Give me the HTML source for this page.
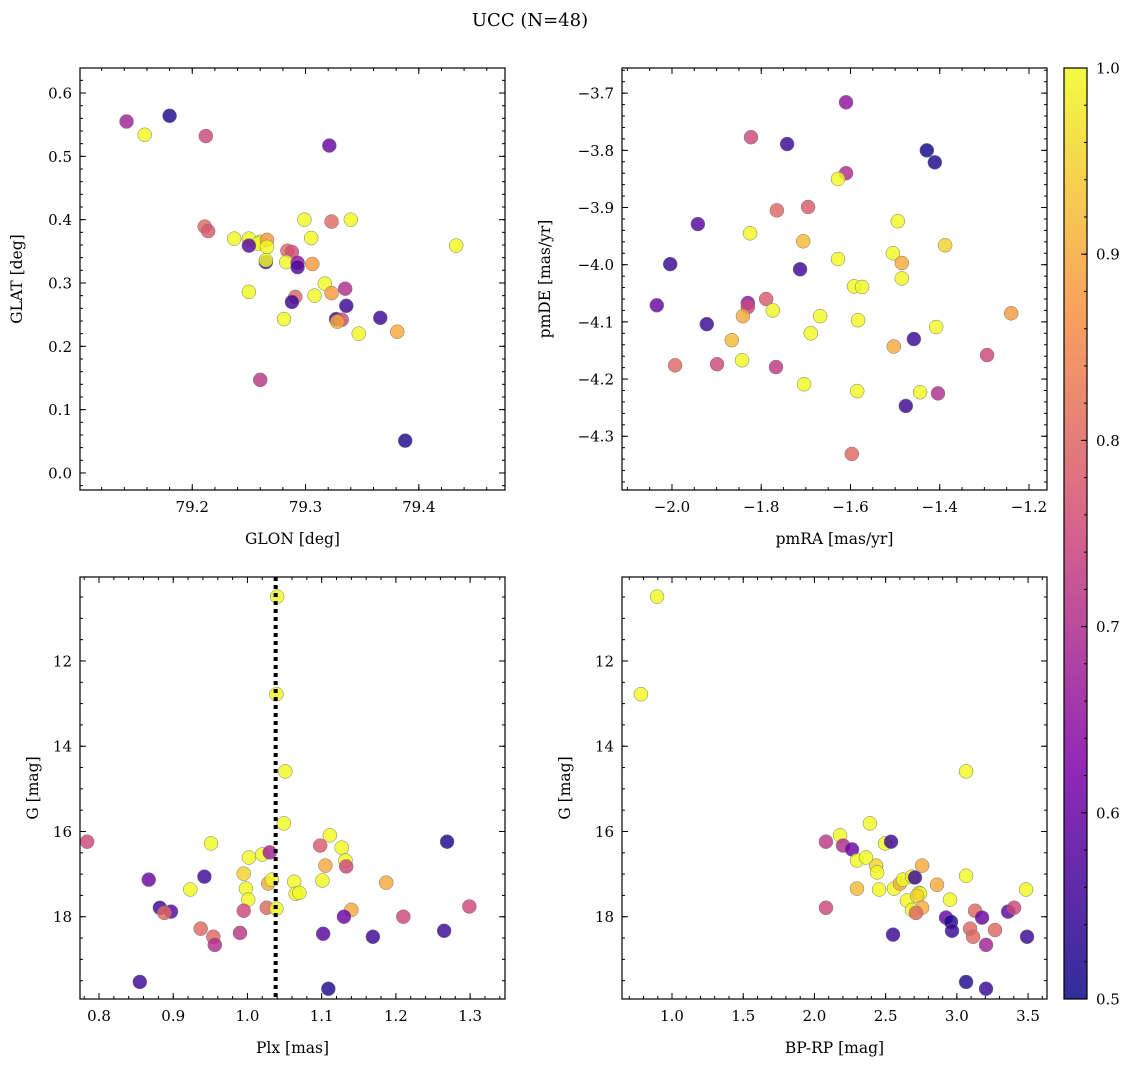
<!DOCTYPE html>
<html><head><meta charset="utf-8">
<style>
html,body{margin:0;padding:0;background:#fff;}
svg{display:block;font-family:"DejaVu Serif","Liberation Serif",serif;}
</style></head>
<body>
<svg id="fig" width="1136" height="1067" viewBox="0 0 1136 1067" xmlns="http://www.w3.org/2000/svg">
<text x="530" y="26" font-size="18" text-anchor="middle">UCC (N=48)</text>
</svg>
<script>
// ---- Panel 1: GLON vs GLAT ----
const glonA=[79.142,79.158,79.180,79.212,79.321,79.211,79.214,79.237,79.250,79.260,79.258,79.266,79.266,79.250,79.265,79.265,79.284,79.288,79.283,79.293,79.293,79.299,79.305,79.306,79.323,79.340,79.317,79.323,79.335,79.308,79.291,79.250,79.336,79.288,79.327,79.332,79.328,79.347,79.366,79.381,79.281,79.433,79.260,79.388];
const glatA=[0.555,0.534,0.564,0.532,0.517,0.389,0.382,0.370,0.370,0.365,0.362,0.368,0.357,0.359,0.333,0.336,0.351,0.349,0.333,0.332,0.325,0.400,0.371,0.330,0.397,0.400,0.299,0.284,0.291,0.280,0.278,0.286,0.264,0.270,0.243,0.242,0.239,0.220,0.245,0.223,0.243,0.359,0.147,0.051];
const probA=[0.68,1.0,0.52,0.75,0.6,0.8,0.78,1.0,1.0,1.0,1.0,0.88,1.0,0.58,0.55,1.0,0.8,0.76,1.0,0.65,0.57,1.0,1.0,0.88,0.8,1.0,1.0,0.88,0.7,1.0,0.8,1.0,0.55,0.55,0.55,0.75,0.9,1.0,0.55,0.9,1.0,1.0,0.72,0.52];
// ---- Panel 2: pmRA vs pmDE ----
const pmraB=[-1.610,-1.823,-1.742,-1.429,-1.411,-1.610,-1.628,-1.942,-1.825,-1.765,-1.695,-1.494,-1.706,-1.388,-1.505,-2.004,-1.628,-1.485,-1.713,-1.485,-1.592,-1.574,-2.034,-1.830,-1.830,-1.789,-1.841,-1.774,-1.668,-1.583,-1.922,-1.689,-1.408,-1.240,-1.458,-1.866,-1.843,-1.993,-1.899,-1.767,-1.503,-1.294,-1.704,-1.585,-1.444,-1.476,-1.404,-1.597];
const pmdeB=[-3.716,-3.777,-3.789,-3.800,-3.821,-3.840,-3.850,-3.929,-3.945,-3.905,-3.899,-3.924,-3.959,-3.966,-3.980,-3.999,-3.990,-3.997,-4.008,-4.024,-4.038,-4.039,-4.071,-4.067,-4.074,-4.060,-4.090,-4.080,-4.090,-4.097,-4.104,-4.120,-4.109,-4.085,-4.130,-4.132,-4.167,-4.176,-4.174,-4.179,-4.143,-4.158,-4.209,-4.221,-4.223,-4.247,-4.225,-4.331];
const probB=[0.65,0.75,0.55,0.5,0.52,0.7,1.0,0.58,1.0,0.8,0.78,1.0,0.92,0.95,1.0,0.55,1.0,0.9,0.55,1.0,1.0,1.0,0.6,0.65,0.75,0.78,0.9,1.0,1.0,1.0,0.55,1.0,1.0,0.88,0.55,0.92,1.0,0.8,0.75,0.72,0.9,0.75,1.0,1.0,1.0,0.55,0.7,0.8];
// ---- Panel 3: Plx vs G ----
const plxC=[1.040,1.039,1.051,1.049,0.784,0.867,0.882,0.897,0.888,0.923,0.942,0.951,0.937,0.954,0.956,1.002,1.020,1.030,0.998,0.995,1.001,0.995,0.990,1.028,1.033,1.026,1.039,1.063,1.065,1.070,1.098,1.111,1.127,1.132,1.133,1.105,1.101,1.140,1.130,1.102,1.187,1.169,1.210,1.269,1.265,1.299,0.855,1.109];
const gC=[10.49,12.78,14.59,15.81,16.24,17.13,17.79,17.88,17.91,17.36,17.06,16.28,18.28,18.47,18.66,16.61,16.54,16.49,17.34,16.99,17.60,17.86,18.38,17.22,17.13,17.79,17.81,17.18,17.46,17.44,16.33,16.09,16.38,16.68,16.82,16.80,17.15,17.84,18.00,18.40,17.20,18.47,18.00,16.24,18.33,17.76,19.53,19.69];
const probC=[1.0,1.0,1.0,1.0,0.75,0.6,0.55,0.58,0.8,1.0,0.55,1.0,0.8,0.8,0.7,1.0,1.0,0.68,1.0,0.95,1.0,0.75,0.72,0.9,1.0,0.8,1.0,1.0,1.0,1.0,0.78,1.0,1.0,1.0,0.75,0.9,1.0,0.9,0.6,0.58,0.9,0.55,0.75,0.52,0.55,0.75,0.55,0.52];
const plxMedian=1.038;
// ---- Panel 4: BP-RP vs G ----
const bprpD=[0.895,0.782,3.065,2.390,2.180,2.081,2.201,2.264,2.299,2.433,2.440,2.362,2.496,2.538,2.299,2.454,2.559,2.601,2.622,2.685,2.706,2.756,2.650,2.735,2.742,2.721,2.756,2.685,2.713,2.861,2.952,2.924,2.959,2.966,3.065,3.128,3.093,3.114,3.177,3.205,3.268,3.360,3.402,3.486,3.493,2.081,2.552,3.065,3.205];
const gD=[10.49,12.78,14.59,15.81,16.09,16.24,16.33,16.42,16.68,16.80,16.96,16.61,16.28,16.24,17.34,17.36,17.34,17.22,17.13,17.06,17.08,16.80,17.62,17.44,17.46,17.51,17.79,17.84,17.91,17.25,17.60,18.02,18.12,18.33,17.04,17.86,18.28,18.47,18.02,18.66,18.31,17.88,17.79,17.36,18.47,17.79,18.42,19.53,19.69];
const probD=[1.0,1.0,1.0,1.0,1.0,0.72,0.7,0.6,1.0,0.95,1.0,1.0,1.0,0.55,0.92,1.0,1.0,0.9,1.0,1.0,0.55,0.9,1.0,1.0,1.0,0.95,0.9,1.0,0.8,0.9,1.0,0.6,0.52,0.55,1.0,0.8,0.8,0.8,0.6,0.68,0.8,0.58,0.75,1.0,0.55,0.75,0.55,0.52,0.55];
// ---- Colorbar ticks ----
const cbTicks=[0.5,0.6,0.7,0.8,0.9,1.0];

const NS="http://www.w3.org/2000/svg";
const fig=document.getElementById('fig');
function mk(tag,attrs,parent){const e=document.createElementNS(NS,tag);for(const k in attrs)e.setAttribute(k,attrs[k]);(parent||fig).appendChild(e);return e;}
const stops=[[0,[13,8,135]],[0.25,[126,3,168]],[0.5,[204,71,120]],[0.75,[248,149,64]],[1,[240,249,33]]];
function plasma(t){t=Math.max(0,Math.min(1,t));for(let i=1;i<stops.length;i++){if(t<=stops[i][0]){const a=stops[i-1],b=stops[i];const f=(t-a[0])/(b[0]-a[0]);const c=a[1].map((v,j)=>Math.round(v+(b[1][j]-v)*f));return 'rgb('+c[0]+','+c[1]+','+c[2]+')';}}return 'rgb(240,249,33)';}
function cnorm(v){return (v-0.5)/0.5;}
function fmt(v,d){const s=Math.abs(v).toFixed(d);return (v<-1e-9?'\u2212':'')+s;}

function panel(cfg){
  const x0=cfg.x0,y0=cfg.y0,w=cfg.w,h=cfg.h,xd=cfg.xd,yd=cfg.yd,name=cfg.name;
  const g=mk('g',{},fig);
  
  
  const sx=v=>x0+(v-xd[0])/(xd[1]-xd[0])*w;
  const sy=cfg.yinv?(v=>y0+(v-yd[0])/(yd[1]-yd[0])*h):(v=>y0+h-(v-yd[0])/(yd[1]-yd[0])*h);
  const pg=mk('g',{},g);
  
  
  for(let i=0;i<cfg.xs.length;i++){
    const c=mk('circle',{cx:sx(cfg.xs[i]),cy:sy(cfg.ys[i]),r:7,fill:plasma(cnorm(cfg.cs[i])),'fill-opacity':0.82,stroke:'#777','stroke-width':0.5},pg);
    
    
  }
  if(cfg.vline!==undefined){
    const l=mk('line',{x1:sx(cfg.vline),x2:sx(cfg.vline),y1:y0,y2:y0+h,stroke:'#000','stroke-width':4,'stroke-dasharray':'4,4'},g);
    
    
  }
  const tg=mk('g',{stroke:'#000','stroke-width':1},g);
  const eps=1e-9;
  function ticks(d,step){const a=[];const s=Math.ceil(d[0]/step-eps);for(let k=s;k*step<=d[1]+eps;k++)a.push(+(k*step).toFixed(6));return a;}
  ticks(xd,cfg.xminor).forEach(v=>{const x=sx(v);mk('line',{x1:x,x2:x,y1:y0+h,y2:y0+h-3},tg);mk('line',{x1:x,x2:x,y1:y0,y2:y0+3},tg);});
  ticks(yd,cfg.yminor).forEach(v=>{const y=sy(v);mk('line',{x1:x0,x2:x0+3,y1:y,y2:y},tg);mk('line',{x1:x0+w,x2:x0+w-3,y1:y,y2:y},tg);});
  ticks(xd,cfg.xmajor).forEach(v=>{const x=sx(v);mk('line',{x1:x,x2:x,y1:y0+h,y2:y0+h-6},tg);mk('line',{x1:x,x2:x,y1:y0,y2:y0+6},tg);
    const t=mk('text',{x:x,y:y0+h+22,'font-size':15,'text-anchor':'middle'},g);t.textContent=fmt(v,cfg.xdec);
    
    });
  ticks(yd,cfg.ymajor).forEach(v=>{const y=sy(v);mk('line',{x1:x0,x2:x0+6,y1:y,y2:y},tg);mk('line',{x1:x0+w,x2:x0+w-6,y1:y,y2:y},tg);
    const t=mk('text',{x:x0-8,y:y+5.5,'font-size':15,'text-anchor':'end'},g);t.textContent=fmt(v,cfg.ydec);
    
    });
  const fr=mk('rect',{x:x0,y:y0,width:w,height:h,fill:'none',stroke:'#000','stroke-width':1.2},g);
  
  
  const xl=mk('text',{x:x0+w/2,y:y0+h+54,'font-size':15.5,'text-anchor':'middle'},g);xl.textContent=cfg.xlabel;
  
  
  const yx=cfg.ylx,yy=y0+h/2;
  const yl=mk('text',{x:yx,y:yy,'font-size':15.5,'text-anchor':'middle',transform:'rotate(-90 '+yx+' '+yy+')'},g);yl.textContent=cfg.ylabel;
  
  
}

panel({name:'glon-glat-panel',x0:80,y0:68,w:425,h:422,xd:[79.1009,79.4761],yd:[-0.0269,0.6395],xs:glonA,ys:glatA,cs:probA,xmajor:0.1,xminor:0.02,ymajor:0.1,yminor:0.02,xdec:1,ydec:1,xlabel:'GLON [deg]',ylabel:'GLAT [deg]',ylx:22});
panel({name:'pm-panel',x0:622,y0:68,w:425,h:422,xd:[-2.112,-1.1597],yd:[-4.394,-3.656],xs:pmraB,ys:pmdeB,cs:probB,xmajor:0.2,xminor:0.05,ymajor:0.1,yminor:0.02,xdec:1,ydec:1,xlabel:'pmRA [mas/yr]',ylabel:'pmDE [mas/yr]',ylx:550});
panel({name:'plx-g-panel',x0:80,y0:577,w:425,h:422,xd:[0.7744,1.347],yd:[10.03,19.93],yinv:true,xs:plxC,ys:gC,cs:probC,xmajor:0.1,xminor:0.02,ymajor:2,yminor:0.5,xdec:1,ydec:0,xlabel:'Plx [mas]',ylabel:'G [mag]',ylx:38,vline:plxMedian});
panel({name:'cmd-panel',x0:622,y0:577,w:425,h:422,xd:[0.649,3.633],yd:[10.03,19.93],yinv:true,xs:bprpD,ys:gD,cs:probD,xmajor:0.5,xminor:0.1,ymajor:2,yminor:0.5,xdec:1,ydec:0,xlabel:'BP-RP [mag]',ylabel:'G [mag]',ylx:570});

(function(){
  const x0=1064,y0=68,w=23,h=931;
  const defs=mk('defs',{},fig);
  const lg=mk('linearGradient',{id:'cbg',x1:0,y1:1,x2:0,y2:0},defs);
  for(let i=0;i<=20;i++){mk('stop',{offset:i/20,'stop-color':plasma(i/20),'stop-opacity':0.85},lg);}
  const r=mk('rect',{x:x0,y:y0,width:w,height:h,fill:'url(#cbg)',stroke:'#000','stroke-width':1.2},fig);
  
  
  const sy=v=>y0+h-(v-0.5)/0.5*h;
  for(let k=0;k<=25;k++){const v=0.5+k*0.02;mk('line',{x1:x0+w,x2:x0+w-3,y1:sy(v),y2:sy(v),stroke:'#000'},fig);}
  cbTicks.forEach(v=>{const y=sy(v);mk('line',{x1:x0+w,x2:x0+w-6,y1:y,y2:y,stroke:'#000'},fig);
    const t=mk('text',{x:x0+w+9,y:y+5.5,'font-size':15},fig);t.textContent=v.toFixed(1);
    
    });
})();
</script>
</body></html>
